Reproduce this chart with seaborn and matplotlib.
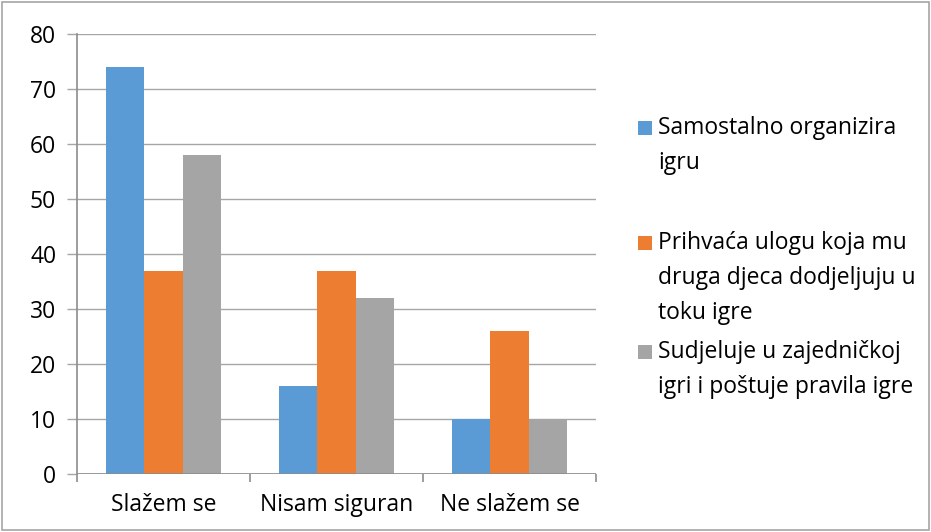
import matplotlib
matplotlib.use("Agg")
import matplotlib.pyplot as plt
import seaborn as sns
import pandas as pd
from matplotlib.patches import Rectangle

categories = ["Slažem se", "Nisam siguran", "Ne slažem se"]
series_names = [
    "Samostalno organizira\nigru",
    "Prihvaća ulogu koja mu\ndruga djeca dodjeljuju u\ntoku igre",
    "Sudjeluje u zajedničkoj\nigri i poštuje pravila igre",
]
s1 = [74, 16, 10]
s2 = [37, 37, 26]
s3 = [58, 32, 10]
colors = ["#5B9BD5", "#ED7D31", "#A5A5A5"]
yticks = [0, 10, 20, 30, 40, 50, 60, 70, 80]

rows = []
for name, vals in zip(series_names, [s1, s2, s3]):
    for c, v in zip(categories, vals):
        rows.append({"cat": c, "series": name, "value": v})
df = pd.DataFrame(rows)

sns.set_theme(style="white")
plt.rcParams["font.family"] = ["Open Sans", "DejaVu Sans"]
FS = 16.5

fig = plt.figure(figsize=(9.31, 5.32), dpi=100)
ax = fig.add_axes([77 / 931, 58 / 532, (596 - 77) / 931, (474 - 34) / 532])

sns.barplot(data=df, x="cat", y="value", hue="series", palette=colors,
            order=categories, hue_order=series_names, width=0.66, gap=0,
            saturation=1, linewidth=0, ax=ax, legend=False)

ax.set_ylim(0, 80)
ax.set_xlim(-0.5, 2.5)
ax.set_yticks(yticks)
ax.set_yticklabels([str(t) for t in yticks], fontsize=FS, color="#000000")
ax.yaxis.grid(True, color="#A6A6A6", linewidth=1)
ax.set_axisbelow(True)
ax.set_xlabel("")
ax.set_ylabel("")
for s in ["top", "right", "bottom"]:
    ax.spines[s].set_visible(False)
ax.spines["left"].set_color("#8C8C8C")
ax.spines["left"].set_linewidth(1.2)
ax.axhline(0, color="#8C8C8C", linewidth=1.2, zorder=3)
ax.tick_params(axis="y", length=7, color="#A6A6A6", width=1, pad=8, left=True)
ax.set_xticks(range(len(categories)))
ax.set_xticklabels(categories, fontsize=FS, color="#000000")
ax.tick_params(axis="x", which="major", length=0, pad=14)
ax.set_xticks([-0.5, 0.5, 1.5, 2.5], minor=True)
ax.tick_params(axis="x", which="minor", length=6, color="#8C8C8C", width=1.2, bottom=True)

# legend (manual, to mimic spacing)
leg_y = [128, 243, 352]
for name, col, y in zip(series_names, colors, leg_y):
    fig.add_artist(Rectangle((638 / 931, 1 - (y + 7) / 532), 14 / 931, 14 / 532,
                             transform=fig.transFigure, facecolor=col, edgecolor="none"))
    fig.text(658 / 931, 1 - (y - 12) / 532, name, fontsize=FS, va="top", ha="left",
             linespacing=1.6, color="#000000")

# outer border
fig.add_artist(Rectangle((2 / 931, 2 / 532), 927 / 931, 528 / 532, transform=fig.transFigure,
                         facecolor="none", edgecolor="#A6A6A6", linewidth=1.2))

fig.savefig("out.png", dpi=100)
